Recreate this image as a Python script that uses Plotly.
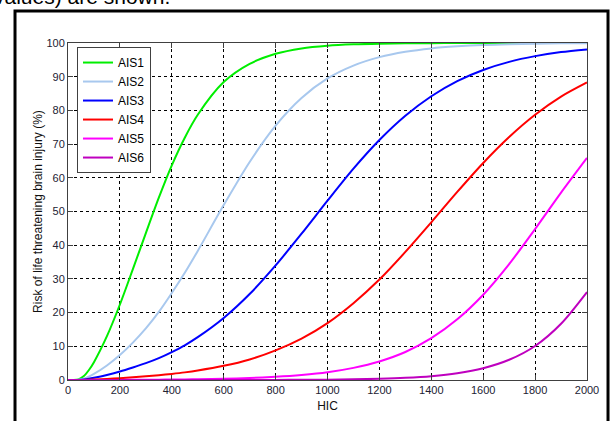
import plotly.graph_objects as go

hic = [0, 20, 40, 60, 80, 100, 150, 200, 250, 300, 350, 400, 450, 500,
       600, 700, 800, 900, 1000, 1100, 1200, 1300, 1400, 1500, 1600, 1700, 1800, 1900, 2000]

ais1 = [0, 0.0, 0.19, 1.1, 2.9, 5.3, 13.0, 22.4, 32.9, 43.6, 54.1, 63.7, 71.9, 78.7,
        88.4, 93.8, 96.8, 98.4, 99.2, 99.6, 99.8, 99.9, 99.95, 100, 100, 100, 100, 100, 100]
ais2 = [0, 0.0, 0.07, 0.39, 0.99, 1.8, 4.3, 7.4, 11.1, 15.3, 20.2, 25.8, 31.8, 38.3,
        51.9, 64.7, 75.5, 83.7, 89.5, 93.3, 95.8, 97.4, 98.4, 99.0, 99.4, 99.6, 99.8, 99.9, 99.9]
ais3 = [0, 0.0, 0.03, 0.15, 0.37, 0.66, 1.5, 2.5, 3.7, 5.0, 6.5, 8.3, 10.3, 12.7,
        18.4, 25.5, 34.0, 43.4, 53.2, 62.7, 71.2, 78.4, 84.2, 88.7, 92.0, 94.4, 96.1, 97.3, 98.1]
ais4 = [0, 0.0, 0.01, 0.03, 0.08, 0.14, 0.33, 0.55, 0.80, 1.08, 1.42, 1.81, 2.26, 2.81,
        4.2, 6.1, 8.8, 12.3, 16.9, 22.8, 29.8, 38.0, 46.8, 55.8, 64.4, 72.1, 78.7, 84.1, 88.3]
ais5 = [0, 0.0, 0.0, 0.0, 0.0, 0.01, 0.02, 0.03, 0.05, 0.07, 0.10, 0.13, 0.18, 0.23,
        0.38, 0.60, 0.96, 1.5, 2.3, 3.6, 5.5, 8.3, 12.4, 18.0, 25.3, 34.4, 44.8, 55.6, 65.9]
ais6 = [0, 0.0, 0.0, 0.0, 0.0, 0.0, 0.0, 0.0, 0.0, 0.0, 0.0, 0.0, 0.0, 0.005,
        0.01, 0.02, 0.035, 0.06, 0.11, 0.20, 0.36, 0.64, 1.13, 2.0, 3.5, 6.0, 10.1, 16.7, 26.1]

names = ["AIS1", "AIS2", "AIS3", "AIS4", "AIS5", "AIS6"]
series = [ais1, ais2, ais3, ais4, ais5, ais6]
colors = ["#00ee00", "#a8c8ee", "#0000ff", "#ff0000", "#ff00ff", "#bf00bf"]

x_ticks = [0, 200, 400, 600, 800, 1000, 1200, 1400, 1600, 1800, 2000]
y_ticks = [0, 10, 20, 30, 40, 50, 60, 70, 80, 90, 100]

fig = go.Figure()
for n, s, c in zip(names, series, colors):
    fig.add_trace(go.Scatter(x=hic, y=s, name=n, mode="lines",
                             line=dict(color=c, width=2, shape="spline", smoothing=0.8)))

axis_common = dict(showline=True, linecolor="#404040", linewidth=1, mirror="ticks",
                   ticks="inside", ticklen=5, tickcolor="#404040", automargin=False,
                   showgrid=True, gridcolor="black", gridwidth=1, griddash="3px,3px",
                   zeroline=False, tickfont=dict(family="Liberation Sans, Arial", size=11, color="#222233"))

fig.update_xaxes(range=[0, 2000], tickvals=x_ticks,
                 title=dict(text="HIC", font=dict(family="Liberation Sans, Arial", size=12, color="#111"), standoff=6),
                 **axis_common)
fig.update_yaxes(range=[0, 100], tickvals=y_ticks,
                 title=dict(text="Risk of life threatening brain injury (%)",
                            font=dict(family="Liberation Sans, Arial", size=12, color="#111"), standoff=1),
                 **axis_common)

fig.update_layout(
    width=613, height=421,
    margin=dict(l=68, r=26, t=43, b=41),
    paper_bgcolor="white", plot_bgcolor="white",
    showlegend=True,
    legend=dict(x=0.0173, y=0.988, xanchor="left", yanchor="top",
                bgcolor="white", bordercolor="#404040", borderwidth=1,
                font=dict(family="Liberation Sans, Arial", size=12, color="black"),
                tracegroupgap=0),
    shapes=[dict(type="rect", xref="paper", yref="paper",
                 x0=-0.1021, x1=1.0405, y0=-0.16, y1=1.095,
                 line=dict(color="black", width=3), layer="above")],
    annotations=[dict(text="values) are shown.", xref="paper", yref="paper",
                      x=-0.1464, y=1.1365, xanchor="left", yanchor="middle",
                      showarrow=False,
                      font=dict(family="Liberation Sans, Arial", size=21, color="black"))],
)

fig.write_html("out.html", config={"displayModeBar": False},
               post_script="document.body.style.margin='0';document.body.style.overflow='hidden';")
